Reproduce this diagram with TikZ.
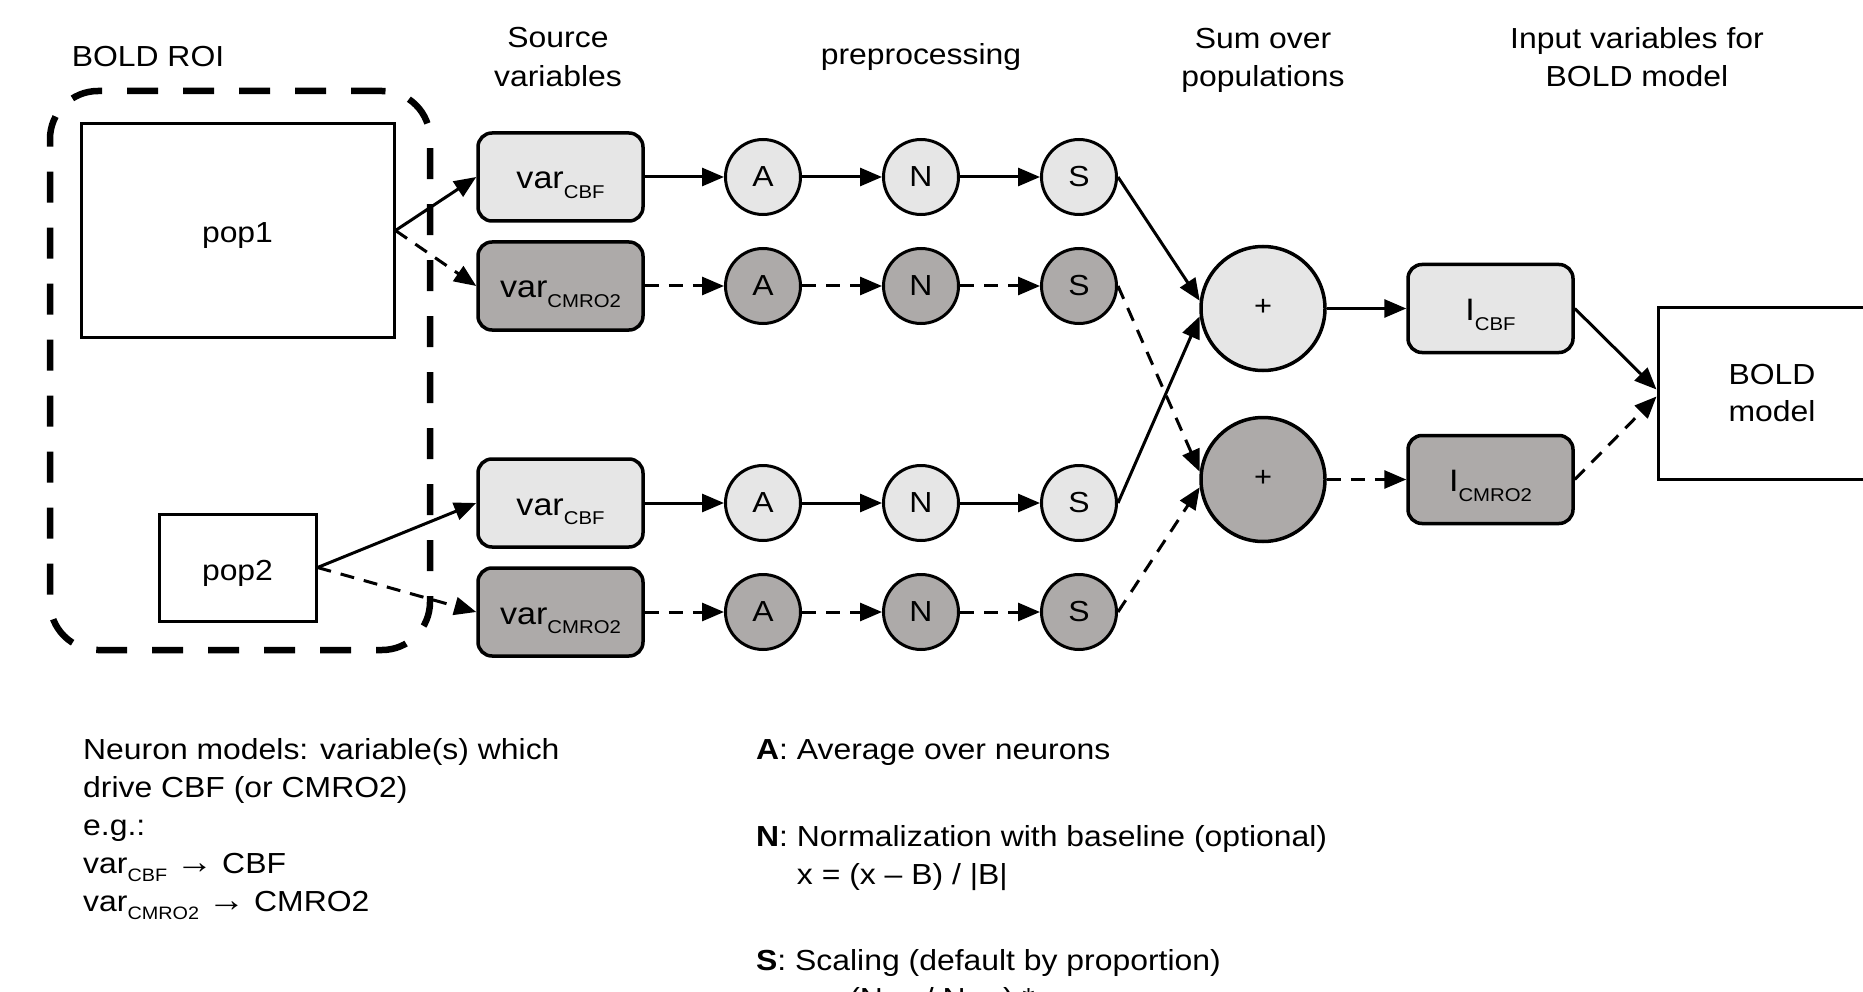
\documentclass[tikz,border=0pt]{standalone}
\usepackage{fontspec}
\setmainfont[FakeStretch=1.1]{Liberation Sans}
\usetikzlibrary{arrows.meta}
\definecolor{lightg}{RGB}{230,230,230}
\definecolor{darkg}{RGB}{173,170,169}
\newcommand\sbs[1]{\raisebox{-0.3em}{\fontsize{18}{18}\selectfont #1}}
\newcommand\bsb[1]{\raisebox{-9.5pt}{\fontsize{18.5}{18.5}\selectfont #1}}
\newcommand\myarr{{\fontsize{34}{38}\selectfont →}}
\begin{document}
\begin{tikzpicture}[x=1pt,y=-1pt,
  txt/.style={font=\fontsize{29}{38.5}\selectfont, inner sep=0pt},
  hdr/.style={txt, align=center},
  varbox/.style={draw, line width=3.5pt, rounded corners=14pt, minimum width=165pt, minimum height=88pt, inner sep=0pt, text height=24pt, text depth=0pt, font=\fontsize{31}{36}\selectfont},
  cbf/.style={fill=lightg},
  cmro/.style={fill=darkg},
  opnode/.style={draw, circle, line width=3pt, minimum size=75pt, inner sep=0pt, font=\fontsize{29}{36}\selectfont},
  sumnode/.style={draw, circle, line width=3.5pt, minimum size=124pt, inner sep=0pt, text height=14.8pt, text depth=0pt, font=\fontsize{28}{30}\selectfont},
  plainbox/.style={draw, line width=3pt, inner sep=0pt, align=center, font=\fontsize{29}{37}\selectfont},
  roi/.style={draw, line width=6.5pt, dash pattern=on 31pt off 25pt, rounded corners=48pt, inner sep=0pt},
  conn/.style={line width=3pt, -{Triangle[length=22pt,width=18pt]}},
  dconn/.style={conn, dash pattern=on 14pt off 10pt}
]
\useasboundingbox (0,0) rectangle (1863,992);
\clip (0,0) rectangle (1863,992);

% headers
\node[txt] (hroi) at (148,57) {BOLD ROI};
\node[hdr] (hsrc) at (558,57) {Source\\variables};
\node[txt] (hpre) at (921,57) {preprocessing};
\node[hdr] (hsum) at (1263,60.5) {Sum over\\populations};
\node[hdr] (hin) at (1637,57) {Input variables for\\BOLD model};

% ROI and populations
\node[roi, minimum width=380pt, minimum height=559pt] (roi) at (240,370.5) {};
\node[plainbox, minimum width=313pt, minimum height=213pt, text height=25pt, text depth=0pt] (pop1) at (237.5,230.5) {pop1};
\node[plainbox, minimum width=157pt, minimum height=107pt, text height=25pt, text depth=0pt] (pop2) at (237.5,567.5) {pop2};

% source variables
\node[varbox,cbf]  (v1) at (560.5,177) {var\bsb{CBF}};
\node[varbox,cmro] (v2) at (560.5,286) {var\bsb{CMRO2}};
\node[varbox,cbf]  (v3) at (560.5,503) {var\bsb{CBF}};
\node[varbox,cmro] (v4) at (560.5,612) {var\bsb{CMRO2}};

% preprocessing
\node[opnode,cbf]  (a1) at (763,177) {A};
\node[opnode,cmro] (a2) at (763,286) {A};
\node[opnode,cbf]  (a3) at (763,503) {A};
\node[opnode,cmro] (a4) at (763,612) {A};
\node[opnode,cbf]  (n1) at (921,177) {N};
\node[opnode,cmro] (n2) at (921,286) {N};
\node[opnode,cbf]  (n3) at (921,503) {N};
\node[opnode,cmro] (n4) at (921,612) {N};
\node[opnode,cbf]  (s1) at (1079,177) {S};
\node[opnode,cmro] (s2) at (1079,286) {S};
\node[opnode,cbf]  (s3) at (1079,503) {S};
\node[opnode,cmro] (s4) at (1079,612) {S};

% sums
\node[sumnode,cbf]  (sum1) at (1263,308.5) {+};
\node[sumnode,cmro] (sum2) at (1263,479.5) {+};

% inputs
\node[varbox,cbf]  (i1) at (1490.5,308.5) {I\bsb{CBF}};
\node[varbox,cmro] (i2) at (1490.5,479.5) {I\bsb{CMRO2}};

% BOLD model
\node[plainbox, minimum width=228pt, minimum height=171pt] (bold) at (1772,393.5) {BOLD\\model};

% connectors
\draw[conn]  (pop1.east) -- (v1.west);
\draw[dconn] (pop1.east) -- (v2.west);
\draw[conn]  (pop2.east) -- (v3.west);
\draw[dconn] (pop2.east) -- (v4.west);

\draw[conn]  (v1) -- (a1);
\draw[conn]  (a1) -- (n1);
\draw[conn]  (n1) -- (s1);
\draw[dconn] (v2) -- (a2);
\draw[dconn] (a2) -- (n2);
\draw[dconn] (n2) -- (s2);
\draw[conn]  (v3) -- (a3);
\draw[conn]  (a3) -- (n3);
\draw[conn]  (n3) -- (s3);
\draw[dconn] (v4) -- (a4);
\draw[dconn] (a4) -- (n4);
\draw[dconn] (n4) -- (s4);

\draw[conn]  (s1.east) -- (sum1.173);
\draw[conn]  (s3.east) -- (sum1.187);
\draw[dconn] (s2.east) -- (sum2.173);
\draw[dconn] (s4.east) -- (sum2.187);

\draw[conn]  (sum1) -- (i1);
\draw[dconn] (sum2) -- (i2);

\draw[conn]  (i1.east) -- ([yshift=4pt]bold.west);
\draw[dconn] (i2.east) -- ([yshift=-3pt]bold.west);

% legend left
\node[txt, anchor=base west] (l1) at (83,759) {Neuron models: variable(s) which};
\node[txt, anchor=base west] (l2) at (83,797) {drive CBF (or CMRO2)};
\node[txt, anchor=base west] (l3) at (83,835) {e.g.:};
\node[txt, anchor=base west] (l4) at (83,873) {var\sbs{CBF} \myarr{} CBF};
\node[txt, anchor=base west] (l5) at (83,911) {var\sbs{CMRO2} \myarr{} CMRO2};

% legend right
\node[txt, anchor=base west] (r1) at (756,759) {\textbf{A}: Average over neurons};
\node[txt, anchor=base west] (r2) at (756,846) {\textbf{N}: Normalization with baseline (optional)};
\node[txt, anchor=base west] (r3) at (756,884) {\phantom{\textbf{N}: }x = (x – B) / |B|};
\node[txt, anchor=base west] (r4) at (756,970) {\textbf{S}: Scaling (default by proportion)};
\node[txt, anchor=base west] (r5) at (756,1008) {\phantom{\textbf{N}: }x = (N\sbs{pop} / N\sbs{total}) *};
\end{tikzpicture}
\end{document}
